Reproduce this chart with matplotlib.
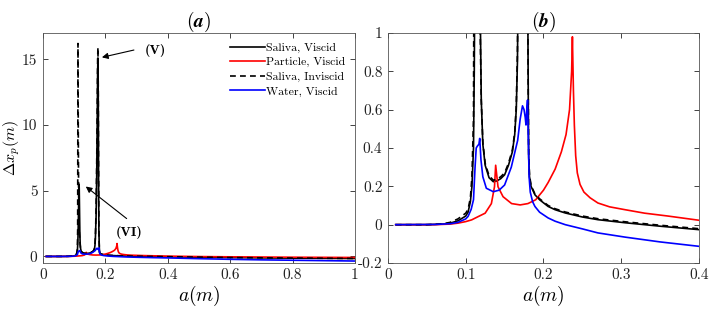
import matplotlib
matplotlib.use("Agg")
import matplotlib.pyplot as plt

plt.rcParams['font.family'] = 'cmr10'
plt.rcParams['mathtext.fontset'] = 'cm'
plt.rcParams['axes.unicode_minus'] = False

# data
a_saliva = [0.01, 0.05, 0.07, 0.08, 0.09, 0.1, 0.103, 0.106, 0.108, 0.11, 0.111, 0.112, 0.113,
            0.114, 0.115, 0.1155, 0.116, 0.117, 0.118, 0.119, 0.12, 0.122, 0.125, 0.13, 0.1355,
            0.14, 0.145, 0.15, 0.155, 0.16, 0.163, 0.165, 0.1665, 0.168, 0.17, 0.172, 0.174,
            0.175, 0.176, 0.177, 0.178, 0.179, 0.18, 0.1805, 0.181, 0.182, 0.184, 0.189, 0.195,
            0.206, 0.215, 0.228, 0.25, 0.27, 0.305, 0.35, 0.4, 0.5, 0.6, 0.8, 1.0]
y_saliva_visc = [0, 0, 0.003, 0.008, 0.02, 0.045, 0.065, 0.12, 0.2, 0.4, 0.8, 1.5, 2.5,
                 3.8, 5.0, 5.5, 5.2, 3.5, 1.8, 1.0, 0.65, 0.42, 0.31, 0.245, 0.224,
                 0.228, 0.24, 0.26, 0.31, 0.38, 0.47, 0.6, 0.85, 1.5, 3.0, 6.0, 11.0,
                 14.0, 15.1, 12.0, 6.0, 2.0, 1.0, 0.6, 0.35, 0.25, 0.2, 0.156, 0.13,
                 0.095, 0.078, 0.061, 0.04, 0.026, 0.01, -0.008, -0.026, -0.06, -0.09, -0.13, -0.16]
y_saliva_invisc = [0, 0, 0.004, 0.012, 0.03, 0.06, 0.08, 0.14, 0.25, 0.55, 2.0, 16.2, 9.0,
                   5.0, 3.2, 2.6, 2.1, 1.6, 1.2, 0.9, 0.65, 0.43, 0.32, 0.255, 0.232,
                   0.236, 0.25, 0.27, 0.32, 0.39, 0.48, 0.62, 0.9, 1.6, 3.5, 7.0, 12.0,
                   15.0, 15.9, 13.0, 7.0, 2.2, 1.0, 0.62, 0.36, 0.26, 0.205, 0.16, 0.135,
                   0.1, 0.083, 0.066, 0.045, 0.031, 0.015, -0.003, -0.021, -0.055, -0.085, -0.125, -0.155]

a_particle = [0.01, 0.06, 0.08, 0.09, 0.1, 0.1076, 0.115, 0.125, 0.133, 0.137, 0.1385, 0.1415,
              0.148, 0.159, 0.17, 0.18, 0.19, 0.2, 0.206, 0.215, 0.223, 0.229, 0.2335, 0.2362,
              0.2372, 0.2385, 0.2397, 0.2414, 0.2435, 0.247, 0.252, 0.26, 0.27, 0.285, 0.305,
              0.33, 0.36, 0.4, 0.5, 0.6, 0.8, 1.0]
y_particle = [0, 0, 0.003, 0.008, 0.016, 0.025, 0.04, 0.06, 0.11, 0.198, 0.31, 0.198,
              0.146, 0.11, 0.103, 0.11, 0.13, 0.18, 0.22, 0.29, 0.38, 0.47, 0.6, 0.8,
              0.98, 0.7, 0.52, 0.36, 0.27, 0.21, 0.17, 0.14, 0.113, 0.093, 0.078,
              0.06, 0.045, 0.023, -0.01, -0.03, -0.06, -0.08]

a_water = [0.01, 0.06, 0.08, 0.09, 0.1, 0.103, 0.107, 0.11, 0.112, 0.1135, 0.115, 0.117, 0.118,
           0.1196, 0.122, 0.1265, 0.1355, 0.143, 0.15, 0.1586, 0.1668, 0.17, 0.173, 0.175,
           0.1765, 0.1775, 0.1785, 0.1795, 0.1805, 0.1815, 0.183, 0.186, 0.189, 0.195, 0.206,
           0.215, 0.228, 0.25, 0.27, 0.305, 0.35, 0.4, 0.5, 0.6, 0.7, 0.8, 0.9, 1.0]
y_water = [0, 0.001, 0.005, 0.012, 0.03, 0.043, 0.08, 0.13, 0.3, 0.4, 0.41, 0.42, 0.45,
           0.338, 0.25, 0.19, 0.172, 0.18, 0.207, 0.3, 0.44, 0.55, 0.62, 0.6,
           0.56, 0.52, 0.6, 0.65, 0.45, 0.25, 0.17, 0.12, 0.095, 0.065, 0.035,
           0.018, 0.0, -0.022, -0.043, -0.065, -0.09, -0.113, -0.17, -0.22, -0.26, -0.29, -0.32, -0.35]

labels = ['Saliva, Viscid', 'Particle, Viscid', 'Saliva, Inviscid', 'Water, Viscid']

fig = plt.figure(figsize=(7.09, 3.10), dpi=100)
ax1 = fig.add_axes([0.0607, 0.1516, 0.44, 0.742])
ax2 = fig.add_axes([0.5472, 0.1516, 0.4387, 0.742])

lw = 1.2
for ax in (ax1, ax2):
    ax.plot(a_saliva, y_saliva_visc, color='k', lw=lw, label=labels[0])
    ax.plot(a_particle, y_particle, color='#ff0000', lw=lw, label=labels[1])
    ax.plot(a_saliva, y_saliva_invisc, color='k', lw=lw, ls=(0, (3.5, 2.5)), label=labels[2])
    ax.plot(a_water, y_water, color='#0000ff', lw=lw, label=labels[3])
    ax.tick_params(direction='in', top=True, right=True, length=3.5, width=0.6,
                   labelsize=11, colors='#222222', pad=4)
    for s in ax.spines.values():
        s.set_color('#555555')
        s.set_linewidth(0.6)
    ax.set_xlabel(r'$a(m)$', fontsize=14, labelpad=1)

# panel (a)
ax1.set_xlim(0, 1)
ax1.set_ylim(-0.5, 17)
ax1.set_xticks([0, 0.2, 0.4, 0.6, 0.8, 1])
ax1.set_xticklabels(['0', '0.2', '0.4', '0.6', '0.8', '1'])
ax1.set_yticks([0, 5, 10, 15])
ax1.set_yticklabels(['0', '5', '10', '15'])
ax1.set_ylabel(r'$\Delta x_p(m)$', fontsize=11.5)
ax1.yaxis.set_label_coords(-0.067, 0.5)
ax1.set_title(r'$\mathbf{(}\boldsymbol{a}\mathbf{)}$', fontsize=14, pad=4)
leg = ax1.legend(loc='upper right', frameon=False, fontsize=8.5, handlelength=3.0,
                 handletextpad=0.1, labelspacing=0.35, borderaxespad=0.4)

ax1.annotate('', xy=(0.18, 15.1), xytext=(0.30, 15.75),
             arrowprops=dict(arrowstyle='-|>', color='k', lw=0.8, mutation_scale=9))
ax1.text(0.36, 15.7, '(V)', fontfamily='cmb10', fontsize=10, ha='center', va='center')
ax1.annotate('', xy=(0.13, 5.45), xytext=(0.275, 2.75),
             arrowprops=dict(arrowstyle='-|>', color='k', lw=0.8, mutation_scale=9))
ax1.text(0.275, 1.85, '(VI)', fontfamily='cmb10', fontsize=10, ha='center', va='center')

# panel (b)
ax2.set_xlim(0, 0.4)
ax2.set_ylim(-0.2, 1)
ax2.set_xticks([0, 0.1, 0.2, 0.3, 0.4])
ax2.set_xticklabels(['0', '0.1', '0.2', '0.3', '0.4'])
ax2.set_yticks([-0.2, 0, 0.2, 0.4, 0.6, 0.8, 1])
ax2.set_yticklabels(['-0.2', '0', '0.2', '0.4', '0.6', '0.8', '1'])
ax2.set_title(r'$\mathbf{(}\boldsymbol{b}\mathbf{)}$', fontsize=14, pad=4)

fig.savefig('out.png', dpi=100)
